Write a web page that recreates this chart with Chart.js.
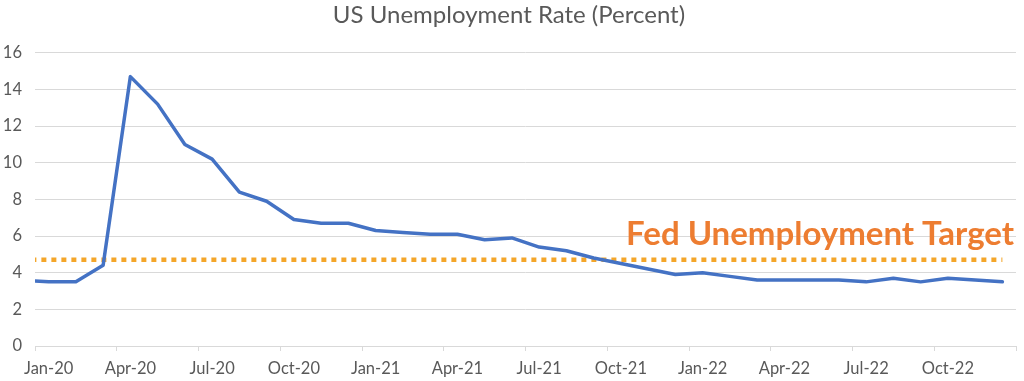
<!DOCTYPE html>
<html>
<head>
<meta charset="utf-8">
<script src="https://cdn.jsdelivr.net/npm/chart.js@4.4.1/dist/chart.umd.min.js"></script>
<style>
  html, body { margin: 0; padding: 0; background: #fff; }
  #wrap { width: 1024px; height: 381px; }
</style>
</head>
<body>
<div id="wrap"><canvas id="rateChart"></canvas></div>
<script>
// monthly unemployment rate, Dec-19 is only there so the line enters from the left edge
const months = ['Dec-19',
  'Jan-20','Feb-20','Mar-20','Apr-20','May-20','Jun-20','Jul-20','Aug-20','Sep-20','Oct-20','Nov-20','Dec-20',
  'Jan-21','Feb-21','Mar-21','Apr-21','May-21','Jun-21','Jul-21','Aug-21','Sep-21','Oct-21','Nov-21','Dec-21',
  'Jan-22','Feb-22','Mar-22','Apr-22','May-22','Jun-22','Jul-22','Aug-22','Sep-22','Oct-22','Nov-22','Dec-22'];
const rates = [3.6,
  3.5, 3.5, 4.4, 14.7, 13.2, 11.0, 10.2, 8.4, 7.9, 6.9, 6.7, 6.7,
  6.3, 6.2, 6.1, 6.1, 5.8, 5.9, 5.4, 5.2, 4.8, 4.5, 4.2, 3.9,
  4.0, 3.8, 3.6, 3.6, 3.6, 3.6, 3.5, 3.7, 3.5, 3.7, 3.6, 3.5];
const targetRate = 4.7;
const yTicks = [0, 2, 4, 6, 8, 10, 12, 14, 16];

const FONT = 'Lato, "Open Sans", sans-serif';
const GREY = '#595959';
const GRID = '#d9d9d9';

// "Fed Unemployment Target" label sitting just above the dotted line
const targetLabel = {
    id: 'targetLabel',
    afterDatasetsDraw(chart) {
        const { ctx, chartArea, scales } = chart;
        const y = scales.y.getPixelForValue(targetRate);
        ctx.save();
        ctx.font = 'bold 33px ' + FONT;
        ctx.fillStyle = '#ED7D31';
        ctx.textAlign = 'right';
        ctx.textBaseline = 'alphabetic';
        ctx.fillText('Fed Unemployment Target', chartArea.right - 2, y - 15);
        ctx.restore();
    }
};

const ctx = document.getElementById('rateChart').getContext('2d');
new Chart(ctx, {
    type: 'line',
    data: {
        datasets: [{
            label: 'Unemployment Rate',
            data: rates.map((v, i) => ({ x: i, y: v })),
            borderColor: '#4472C4',
            borderWidth: 3.5,
            borderJoinStyle: 'round',
            borderCapStyle: 'round',
            pointRadius: 0,
            tension: 0,
            clip: 0,
            order: 1
        }, {
            label: 'Fed Target',
            data: months.map((m, i) => ({ x: i, y: targetRate })),
            borderColor: '#F4A62A',
            borderWidth: 4.5,
            borderDash: [5, 5],
            pointRadius: 0,
            clip: 0,
            order: 2
        }]
    },
    options: {
        responsive: true,
        maintainAspectRatio: false,
        animation: false,
        layout: { padding: { left: 0, right: 6, top: 0, bottom: 0 } },
        plugins: {
            legend: { display: false },
            tooltip: { enabled: false },
            title: {
                display: true,
                text: 'US Unemployment Rate (Percent)',
                color: GREY,
                font: { family: FONT, size: 24, weight: 'normal' },
                padding: { top: 1, bottom: 23 }
            }
        },
        scales: {
            x: {
                type: 'linear',
                min: 0.5,
                max: months.length - 0.5,
                afterBuildTicks: scale => {
                    const t = [];
                    for (let v = 0.5; v <= months.length - 0.5; v += 3) t.push({ value: v });
                    scale.ticks = t;
                },
                afterFit: scale => { scale.height = 35; },
                border: { display: true, color: GRID, width: 1 },
                grid: { drawOnChartArea: false, drawTicks: true, tickLength: 5, color: GRID },
                ticks: {
                    autoSkip: false,
                    maxRotation: 0,
                    labelOffset: 13.65,
                    padding: 8,
                    color: GREY,
                    font: { family: FONT, size: 16.5 },
                    callback: v => months[v + 0.5] || ''
                }
            },
            y: {
                min: 0,
                max: 16,
                afterBuildTicks: scale => { scale.ticks = yTicks.map(v => ({ value: v })); },
                afterFit: scale => { scale.width = 35; },
                border: { display: false },
                grid: { color: GRID, drawTicks: false },
                ticks: {
                    padding: 13,
                    color: GREY,
                    font: { family: FONT, size: 16.5 }
                }
            }
        }
    },
    plugins: [targetLabel]
});
</script>
</body>
</html>
